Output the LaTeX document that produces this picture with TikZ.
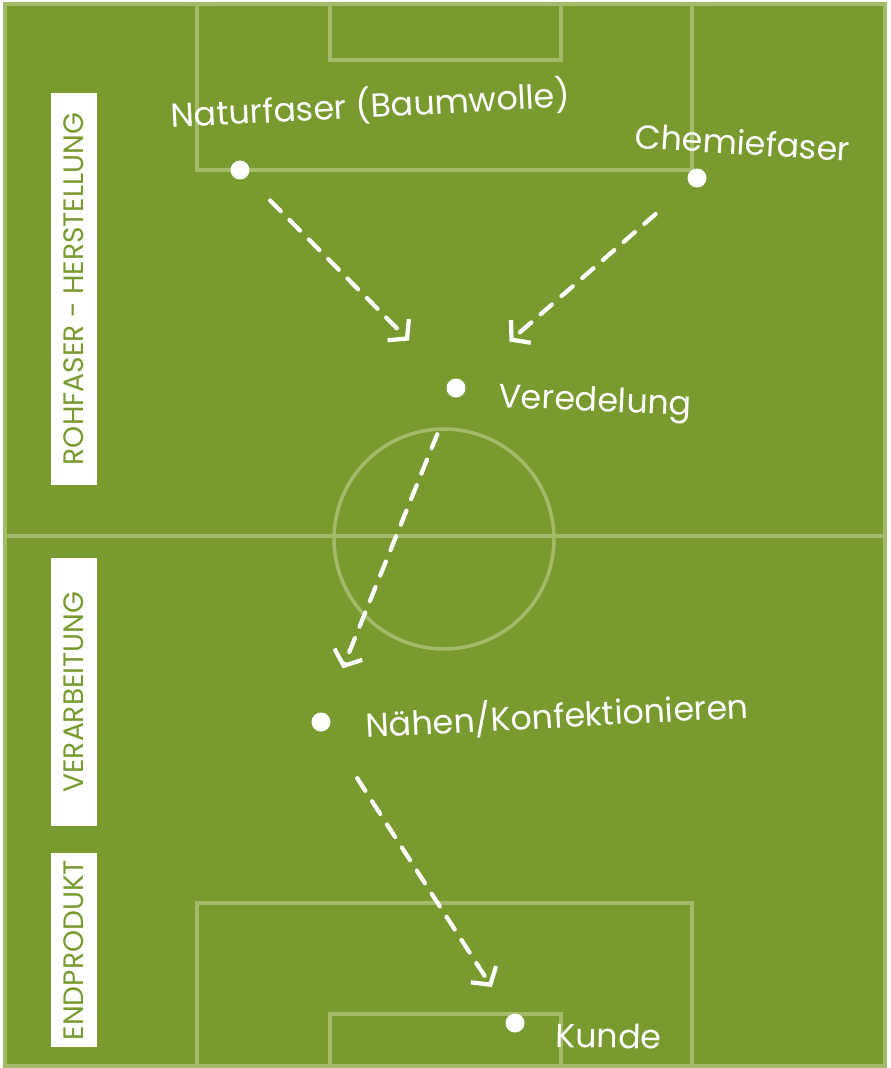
\documentclass[tikz,border=0pt]{standalone}
\usepackage{fontspec}
\setmainfont{Poppins}
\usetikzlibrary{arrows.meta,positioning}
\definecolor{pitch}{HTML}{799A2F}
\definecolor{lineg}{HTML}{A3BB69}
\tikzset{
  pitchmark/.style={draw=lineg, line width=2pt},
  chalkdot/.style={circle, fill=white, inner sep=0pt, minimum size=0.38cm},
  chalk/.style={text=white, inner sep=0pt, font=\fontsize{19}{21}\selectfont},
  phase/.style={fill=white, text=pitch, rotate=90, inner sep=0pt,
    minimum height=0.92cm, font=\fontsize{16}{18}\selectfont},
  flow/.style={white, line width=2.4pt, line cap=round,
    dash pattern=on 0.3cm off 0.25cm,
    -{Straight Barb[length=0.25cm,width=0.6cm]}}
}
\begin{document}
\begin{tikzpicture}[x=0.02cm,y=-0.02cm]
\useasboundingbox (0,0) rectangle (891,1068);
\fill[white] (0,0) rectangle (891,1068);
\draw[pitchmark, fill=pitch] (5,4) rectangle (885,1066);
\draw[pitchmark] (197,4) rectangle (692,170);
\draw[pitchmark] (330,4) rectangle (561,60);
\draw[pitchmark] (5,536) -- (885,536);
\draw[pitchmark] (444,539) circle[radius=2.2cm];
\draw[pitchmark] (197,903) rectangle (692,1066);
\draw[pitchmark] (330,1014) rectangle (561,1066);

\node[phase, minimum width=7.84cm] (rohfaser) at (74,289) {ROHFASER - HERSTELLUNG};
\node[phase, minimum width=5.36cm] (verarb) at (74,692) {VERARBEITUNG};
\node[phase, minimum width=3.9cm] (endprod) at (74,950) {ENDPRODUKT};

\node[chalkdot] (natur) at (240,170) {};
\node[chalkdot] (chemie) at (697,178) {};
\node[chalkdot] (vered) at (456,388) {};
\node[chalkdot] (naehen) at (321,722) {};
\node[chalkdot] (kunde) at (515,1023) {};

\node[chalk, anchor=base west, rotate=3] (naturtxt) at (171,128) {Naturfaser (Baumwolle)};
\node[chalk, anchor=base west, rotate=-3.5] (chemietxt) at (634,148) {Chemiefaser};
\node[chalk, anchor=base west, rotate=-2.5] (veredtxt) at (498,407) {Veredelung};
\node[chalk, anchor=base west, rotate=3] (naehentxt) at (366,738) {Nähen/Konfektionieren};
\node[chalk, anchor=base west, rotate=-1] (kundetxt) at (555,1047) {Kunde};

\draw[flow, shorten <=0.66cm, shorten >=1.14cm] (natur) -- (vered);
\draw[flow, shorten <=0.9cm, shorten >=1.22cm] (chemie) -- (vered);
\draw[flow, shorten <=0.8cm, shorten >=0.96cm] (vered) -- (naehen);
\draw[flow, shorten <=1.14cm, shorten >=0.66cm] (naehen) -- (kunde);
\end{tikzpicture}
\end{document}
